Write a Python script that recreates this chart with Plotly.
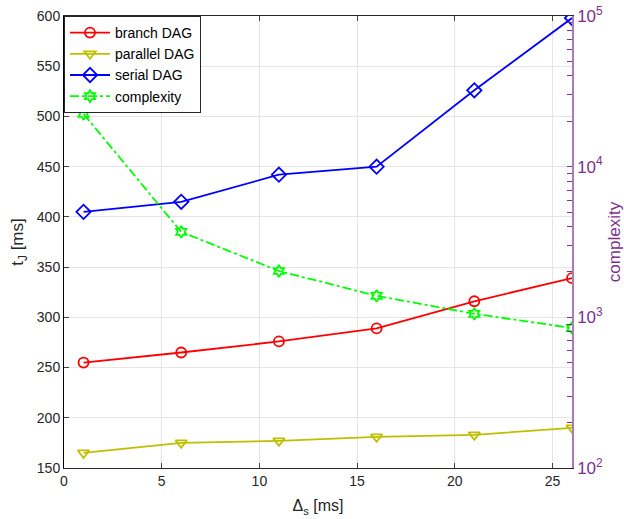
import plotly.graph_objects as go

x = [1, 6, 11, 16, 21, 26]
branch = [255, 265, 276, 289, 316, 339]
parallel = [165, 175, 177, 181, 183, 190]
serial = [405, 415, 442, 450, 526, 598]
complexity = [22400, 3690, 2030, 1390, 1055, 850]
log_tickvals = [m * 10 ** e for e in (2, 3, 4) for m in range(1, 10)] + [10 ** 5]
log_ticktext = [("10<sup>%d</sup>" % e) if m == 1 else "" for e in (2, 3, 4) for m in range(1, 10)] + ["10<sup>5</sup>"]

purple = "#7E2F8E"
font = "Liberation Sans, Arial, sans-serif"

fig = go.Figure()
fig.add_trace(go.Scatter(x=x, y=branch, name="branch DAG", mode="lines+markers",
                         line=dict(color="#FF0000", width=1.8),
                         marker=dict(symbol="circle-open", size=10, color="#FF0000", line=dict(width=1.8))))
fig.add_trace(go.Scatter(x=x, y=parallel, name="parallel DAG", mode="lines+markers",
                         line=dict(color="#BFBF00", width=1.8),
                         marker=dict(symbol="triangle-down-open", size=10, color="#BFBF00", line=dict(width=1.8))))
fig.add_trace(go.Scatter(x=x, y=serial, name="serial DAG", mode="lines+markers",
                         line=dict(color="#0000FF", width=1.8),
                         marker=dict(symbol="diamond-open", size=11, color="#0000FF", line=dict(width=1.8))))
fig.add_trace(go.Scatter(x=x, y=complexity, name="complexity", mode="lines+markers", yaxis="y2",
                         line=dict(color="#00FF00", width=1.8, dash="dashdot"),
                         marker=dict(symbol="hexagram-open", size=9, color="#00FF00", line=dict(width=1.8))))

fig.update_layout(
    width=624, height=519,
    margin=dict(l=64, r=52, t=16, b=51, autoexpand=False),
    paper_bgcolor="white", plot_bgcolor="white",
    font=dict(family=font, size=14, color="#262626"),
    showlegend=True,
    legend=dict(x=0, y=1, xanchor="left", yanchor="top", bgcolor="white",
                bordercolor="#262626", borderwidth=1, font=dict(size=14, color="#000000"),
                tracegroupgap=0, itemwidth=40),
    xaxis=dict(range=[0, 26], tickvals=[0, 5, 10, 15, 20, 25], ticks="inside", ticklen=5,
               showline=True, linecolor="#262626", linewidth=1, mirror="ticks",
               showgrid=True, gridcolor="#E5E5E5", zeroline=False, automargin=False,
               tickfont=dict(size=14),
               title=dict(text="Δ<sub>s</sub> [ms]", font=dict(size=16), standoff=12)),
    yaxis=dict(range=[150, 600], dtick=50, ticks="inside", ticklen=5,
               showline=True, linecolor="#000000", linewidth=1, automargin=False,
               showgrid=True, gridcolor="#E5E5E5", zeroline=False,
               tickfont=dict(size=14),
               title=dict(text="t<sub>J</sub> [ms]", font=dict(size=17), standoff=8)),
    yaxis2=dict(overlaying="y", side="right", type="log", range=[2, 5],
                tickmode="array", tickvals=log_tickvals, ticktext=log_ticktext,
                ticks="inside", ticklen=5, tickwidth=1, tickcolor=purple,
                showline=True, linecolor="#A67DB8", linewidth=1.5, automargin=False,
                showgrid=False, zeroline=False,
                tickfont=dict(color=purple, size=17),
                title=dict(text="complexity", font=dict(color=purple, size=17), standoff=8)),
)

fig.write_html("out.html")
